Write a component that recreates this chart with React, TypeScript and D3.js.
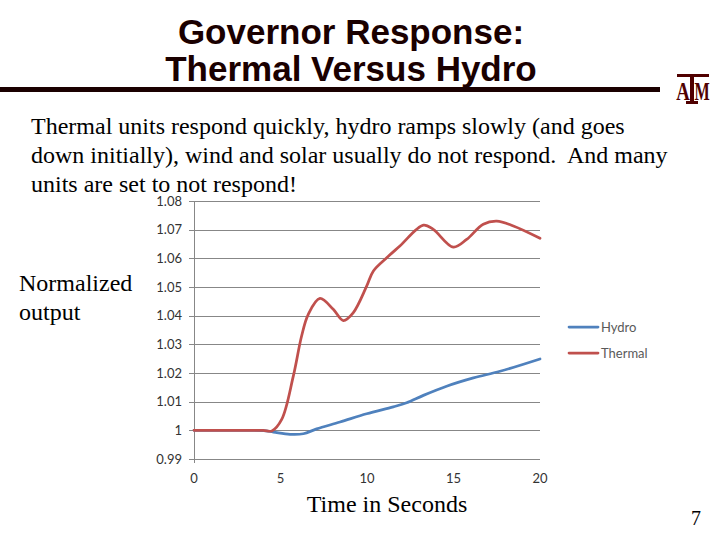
import React, { useRef, useEffect } from "react";
import * as d3 from "d3";

// Thermal unit response (normalized output vs time in seconds)
const thermalTime = [0, 1, 2, 3, 4, 4.5, 5.07, 5.74, 6.22, 6.6, 7.28, 8.05, 8.63, 9.2, 9.98, 10.37, 11.14, 11.9, 13.26, 13.83, 14.99, 15.76, 16.72, 17.5, 18.46, 20];
const thermalValue = [1, 1, 1, 1, 1, 0.9998, 1.0038, 1.0189, 1.0329, 1.0404, 1.046, 1.0422, 1.0383, 1.041, 1.0503, 1.0556, 1.0602, 1.0643, 1.0716, 1.0701, 1.0639, 1.0666, 1.0719, 1.073, 1.0713, 1.067];

// Hydro unit response
const hydroTime = [0, 1, 2, 3, 4, 4.59, 5.55, 6.32, 7.09, 8.44, 9.98, 11.52, 12.29, 13.26, 14.6, 16.15, 17.69, 20];
const hydroValue = [1, 1, 1, 1, 0.9999, 0.9994, 0.9986, 0.9988, 1.0005, 1.0029, 1.0058, 1.0082, 1.0096, 1.0122, 1.0154, 1.0183, 1.0206, 1.0249];

const xTicks = [0, 5, 10, 15, 20];
const yTicks = [0.99, 1, 1.01, 1.02, 1.03, 1.04, 1.05, 1.06, 1.07, 1.08];
const yTickLabels = ["0.99", "1", "1.01", "1.02", "1.03", "1.04", "1.05", "1.06", "1.07", "1.08"];

const seriesNames = ["Hydro", "Thermal"];
const seriesColors = ["#4F81BD", "#C0504D"];

const bodyLines = [
  "Thermal units respond quickly, hydro ramps slowly (and goes",
  "down initially), wind and solar usually do not respond.  And many",
  "units are set to not respond!",
];

const App = () => {
  const svgRef = useRef<SVGSVGElement>(null);

  useEffect(() => {
    const width = 720;
    const height = 540;

    const svg = d3.select(svgRef.current);
    svg.selectAll("*").remove();
    svg.attr("width", width).attr("height", height);

    svg.append("rect").attr("width", width).attr("height", height).attr("fill", "#fff");

    // Slide title
    const title = svg
      .append("g")
      .attr("font-family", "'Liberation Sans', Arial, sans-serif")
      .attr("font-weight", "bold")
      .attr("font-size", 35)
      .attr("fill", "#1a0000")
      .attr("text-anchor", "middle");
    title.append("text").attr("x", 351).attr("y", 44).text("Governor Response:");
    title.append("text").attr("x", 351).attr("y", 81).text("Thermal Versus Hydro");

    svg.append("rect").attr("x", 0).attr("y", 87).attr("width", 660).attr("height", 5).attr("fill", "#1a0000");

    // A&M logo
    const logo = svg.append("g").attr("fill", "#500000");
    logo.append("rect").attr("x", 677).attr("y", 74).attr("width", 32).attr("height", 3);
    logo.append("rect").attr("x", 690).attr("y", 74).attr("width", 4).attr("height", 29);
    logo.append("rect").attr("x", 686).attr("y", 101).attr("width", 12).attr("height", 3);
    const logoText = logo
      .append("g")
      .attr("font-family", "'Liberation Serif', serif")
      .attr("font-weight", "bold")
      .attr("font-size", 26)
      .attr("text-anchor", "middle");
    logoText.append("text").attr("transform", "translate(683,100) scale(0.72,1)").text("A");
    logoText.append("text").attr("transform", "translate(702,100) scale(0.62,1)").text("M");

    // Body text
    const serif = "'Liberation Serif', 'Times New Roman', serif";
    svg
      .append("g")
      .attr("font-family", serif)
      .attr("font-size", 24)
      .attr("fill", "#000")
      .selectAll("text")
      .data(bodyLines)
      .join("text")
      .attr("x", 31)
      .attr("y", (d, i) => 134 + i * 28.8)
      .style("white-space", "pre")
      .text((d) => d);

    const side = svg.append("g").attr("font-family", serif).attr("font-size", 24).attr("fill", "#000");
    side.append("text").attr("x", 19).attr("y", 291).text("Normalized");
    side.append("text").attr("x", 19).attr("y", 320).text("output");
    side
      .append("text")
      .attr("x", 387)
      .attr("y", 512)
      .attr("text-anchor", "middle")
      .text("Time in Seconds");
    side.append("text").attr("x", 696).attr("y", 525).attr("text-anchor", "middle").attr("font-size", 20).text("7");

    // Chart
    const x = d3.scaleLinear().domain([0, 20]).range([194, 540]);
    const y = d3.scaleLinear().domain([0.99, 1.08]).range([459, 201]);

    const tickFont = "Lato, 'Open Sans', sans-serif";

    svg
      .append("g")
      .attr("stroke", "#878787")
      .attr("stroke-width", 1)
      .selectAll("line")
      .data(yTicks)
      .join("line")
      .attr("x1", 189)
      .attr("x2", 540)
      .attr("y1", (d) => Math.round(y(d)) + 0.5)
      .attr("y2", (d) => Math.round(y(d)) + 0.5);

    svg
      .append("line")
      .attr("stroke", "#878787")
      .attr("x1", Math.round(x(0)) + 0.5)
      .attr("x2", Math.round(x(0)) + 0.5)
      .attr("y1", y(1.08))
      .attr("y2", y(0.99) + 4);

    svg
      .append("g")
      .attr("font-family", tickFont)
      .attr("font-size", 13)
      .attr("fill", "#333")
      .attr("text-anchor", "end")
      .selectAll("text")
      .data(yTicks)
      .join("text")
      .attr("x", 182)
      .attr("y", (d) => y(d) + 4.5)
      .text((d, i) => yTickLabels[i]);

    svg
      .append("g")
      .attr("font-family", tickFont)
      .attr("font-size", 13)
      .attr("fill", "#333")
      .attr("text-anchor", "middle")
      .selectAll("text")
      .data(xTicks)
      .join("text")
      .attr("x", (d) => x(d))
      .attr("y", 483)
      .text((d) => d);

    const line = d3
      .line<[number, number]>()
      .x((d) => x(d[0]))
      .y((d) => y(d[1]))
      .curve(d3.curveCatmullRom.alpha(0.5));

    const series = [
      d3.zip(hydroTime, hydroValue) as [number, number][],
      d3.zip(thermalTime, thermalValue) as [number, number][],
    ];

    svg
      .append("g")
      .attr("fill", "none")
      .attr("stroke-width", 2.75)
      .attr("stroke-linejoin", "round")
      .attr("stroke-linecap", "round")
      .selectAll("path")
      .data(series)
      .join("path")
      .attr("stroke", (d, i) => seriesColors[i])
      .attr("d", line);

    // Legend
    const legend = svg
      .append("g")
      .attr("font-family", tickFont)
      .attr("font-size", 13)
      .attr("fill", "#595959")
      .selectAll("g")
      .data(seriesNames)
      .join("g")
      .attr("transform", (d, i) => `translate(569, ${327 + i * 26})`);
    legend
      .append("line")
      .attr("x1", 0)
      .attr("x2", 29)
      .attr("stroke", (d, i) => seriesColors[i])
      .attr("stroke-width", 2.75)
      .attr("stroke-linecap", "round");
    legend
      .append("text")
      .attr("x", 32)
      .attr("y", 4.5)
      .text((d) => d);
  }, []);

  return (
    <div style={{ position: "absolute", left: 0, top: 0 }}>
      <svg ref={svgRef}></svg>
    </div>
  );
};

export default App;
